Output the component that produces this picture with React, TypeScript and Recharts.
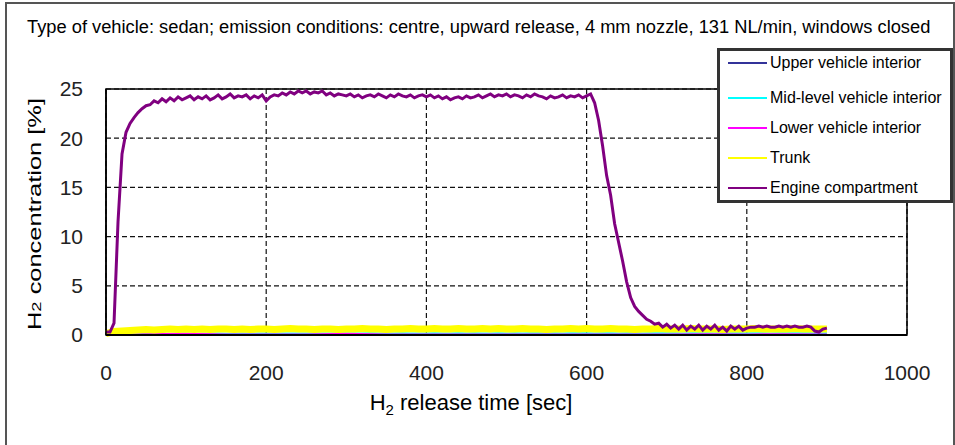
import React from "react";
import {
  LineChart,
  Line,
  XAxis,
  YAxis,
  CartesianGrid,
  Legend,
  ReferenceArea,
} from "recharts";

// sampling step of the traces (sec)
const ENGINE_STEP = 5;
const CABIN_STEP = 10;
const LOW_STEP = 50;

const X_TICKS = [0, 200, 400, 600, 800, 1000];
const Y_TICKS = [0, 5, 10, 15, 20, 25];

// Engine compartment, every 5 s from 0 to 900 s
const ENGINE = [
  0.3, 0.3, 1.2, 11.5, 18.4, 20.6, 21.5, 22.1, 22.6, 23.0, 23.3, 23.4, 23.8, 23.6, 24.0, 23.7, 24.1, 23.8, 24.2, 23.9,
  24.1, 24.3, 23.9, 24.2, 24.0, 24.3, 23.9, 24.1, 24.4, 24.0, 24.2, 24.5, 24.1, 24.3, 24.2, 24.4, 24.0, 24.3, 24.1, 24.4,
  23.8, 24.2, 24.4, 24.3, 24.6, 24.4, 24.7, 24.5, 24.8, 24.6, 24.8, 24.5, 24.7, 24.6, 24.8, 24.4, 24.6, 24.3, 24.5, 24.4,
  24.3, 24.5, 24.2, 24.4, 24.1, 24.3, 24.4, 24.2, 24.5, 24.3, 24.1, 24.4, 24.2, 24.5, 24.3, 24.2, 24.4, 24.1, 24.3, 24.4,
  24.2, 24.4, 24.1, 24.3, 24.0, 24.2, 23.9, 24.1, 24.2, 24.0, 24.3, 24.1, 24.2, 24.4, 24.1, 24.3, 24.5, 24.2, 24.4, 24.3,
  24.5, 24.2, 24.4, 24.3, 24.1, 24.4, 24.2, 24.5, 24.3, 24.2, 24.0, 24.3, 24.1, 24.2, 24.4, 24.1, 24.3, 24.2, 24.4, 24.1,
  24.3, 24.5, 23.6, 21.8, 19.2, 16.2, 14.2, 11.3, 9.4, 7.5, 5.4, 3.8, 2.9, 2.4, 2.0, 1.6, 1.4, 1.1, 1.2, 0.8,
  1.1, 0.7, 1.0, 0.6, 1.0, 0.5, 0.9, 0.6, 1.0, 0.5, 0.9, 0.6, 1.0, 0.5, 0.8, 0.4, 0.9, 0.6, 0.9, 0.5,
  0.7, 0.8, 0.8, 0.9, 0.8, 0.9, 0.8, 0.8, 0.9, 0.8, 0.9, 0.8, 0.9, 0.8, 0.8, 0.9, 0.8, 0.4, 0.3, 0.6,
  0.7,
];

// Trunk, every 10 s
const TRUNK = [
  0.15, 0.35, 0.4, 0.45, 0.5, 0.55, 0.5, 0.55, 0.6, 0.55,
  0.6, 0.55, 0.6, 0.55, 0.6, 0.6, 0.55, 0.6, 0.55, 0.6,
  0.6, 0.55, 0.6, 0.65, 0.6, 0.6, 0.55, 0.6, 0.6, 0.55,
  0.6, 0.6, 0.65, 0.6, 0.6, 0.55, 0.6, 0.6, 0.65, 0.6,
  0.6, 0.65, 0.6, 0.6, 0.65, 0.6, 0.6, 0.65, 0.6, 0.65,
  0.6, 0.6, 0.65, 0.6, 0.6, 0.55, 0.6, 0.6, 0.65, 0.6,
  0.65, 0.6, 0.6, 0.65, 0.6, 0.6, 0.55, 0.6, 0.6, 0.65,
  0.6, 0.6, 0.6, 0.65, 0.6, 0.6, 0.6, 0.55, 0.6, 0.6,
  0.6, 0.65, 0.6, 0.6, 0.6, 0.6, 0.65, 0.6, 0.6, 0.6,
  0.6,
];

// Mid-level vehicle interior, every 10 s
const MID = [
  0.0, 0.02, 0.05, 0.05, 0.08, 0.1, 0.1, 0.12, 0.1, 0.12,
  0.12, 0.1, 0.12, 0.12, 0.14, 0.12, 0.12, 0.14, 0.12, 0.14,
  0.14, 0.12, 0.15, 0.14, 0.16, 0.15, 0.14, 0.16, 0.15, 0.16,
  0.15, 0.16, 0.15, 0.17, 0.16, 0.15, 0.16, 0.17, 0.16, 0.15,
  0.16, 0.17, 0.16, 0.15, 0.17, 0.16, 0.17, 0.16, 0.15, 0.17,
  0.16, 0.17, 0.16, 0.17, 0.18, 0.16, 0.17, 0.16, 0.18, 0.17,
  0.17, 0.16, 0.18, 0.17, 0.16, 0.18, 0.17, 0.16, 0.18, 0.17,
  0.18, 0.17, 0.16, 0.18, 0.17, 0.18, 0.16, 0.17, 0.18, 0.17,
  0.18, 0.17, 0.18, 0.16, 0.17, 0.18, 0.17, 0.18, 0.17, 0.16,
  0.17,
];

// Lower vehicle interior, every 50 s
const LOWER = [0.0, 0.08, 0.12, 0.05, 0.05, 0.04, 0.12, 0.05, 0.04, 0.05, 0.05, 0.06, 0.05, 0.06, 0.06, 0.07, 0.06, 0.07, 0.06];

// Upper vehicle interior, every 50 s
const UPPER = [0.0, 0.0, 0.01, 0.01, 0.01, 0.01, 0.01, 0.02, 0.02, 0.02, 0.02, 0.02, 0.02, 0.02, 0.02, 0.02, 0.02, 0.02, 0.02];

const toPoints = (values: number[], step: number) =>
  values.map((v, i) => ({ t: i * step, v }));

const SERIES = [
  { name: "Upper vehicle interior", color: "#333399", width: 1.5, data: toPoints(UPPER, LOW_STEP) },
  { name: "Mid-level vehicle interior", color: "#00ffff", width: 2, data: toPoints(MID, CABIN_STEP) },
  { name: "Lower vehicle interior", color: "#ff00ff", width: 2, data: toPoints(LOWER, LOW_STEP) },
  { name: "Trunk", color: "#ffff00", width: 7, data: toPoints(TRUNK, CABIN_STEP) },
  { name: "Engine compartment", color: "#800080", width: 3, data: toPoints(ENGINE, ENGINE_STEP) },
];

const FONT = "'Liberation Sans', Arial, sans-serif";

function LegendBox() {
  return (
    <div style={{ fontFamily: FONT, fontSize: 16, color: "#000", paddingTop: 2 }}>
      {SERIES.map((s, i) => (
        <div
          key={s.name}
          style={{
            display: "flex",
            alignItems: "center",
            height: 20,
            marginTop: i === 0 ? 0 : i === 1 ? 15 : 10,
          }}
        >
          <div style={{ width: 39, height: 1.5, background: s.color, marginLeft: 8, marginRight: 3 }} />
          <span>{s.name}</span>
        </div>
      ))}
    </div>
  );
}

export default function App() {
  return (
    <div style={{ position: "absolute", left: 0, top: 0, width: 955, height: 445, background: "#fff" }}>
      <div
        style={{
          position: "absolute",
          left: 5,
          top: 2,
          width: 950,
          height: 443,
          boxSizing: "border-box",
          borderTop: "2px solid #555",
          borderLeft: "2px solid #555",
          borderRight: "2px solid #555",
        }}
      />
      <div
        style={{
          position: "absolute",
          left: 27,
          top: 18,
          fontFamily: FONT,
          fontSize: 18.3,
          lineHeight: "18px",
          whiteSpace: "nowrap",
          color: "#000",
        }}
      >
        Type of vehicle: sedan; emission conditions: centre, upward release, 4 mm nozzle, 131 NL/min, windows closed
      </div>
      <LineChart
        width={955}
        height={445}
        margin={{ top: 89, right: 48, bottom: 70, left: 46 }}
        style={{ position: "absolute", left: 0, top: 0 }}
      >
        <CartesianGrid stroke="#111" strokeDasharray="5 3" strokeWidth={1.2} />
        <ReferenceArea
          x1={0}
          x2={1000}
          y1={0}
          y2={25}
          fill="none"
          fillOpacity={0}
          stroke="#000"
          strokeWidth={1.5}
          ifOverflow="visible"
        />
        <XAxis
          dataKey="t"
          type="number"
          domain={[0, 1000]}
          ticks={X_TICKS}
          height={40}
          tickLine={false}
          tickSize={0}
          tickMargin={30}
          axisLine={{ stroke: "#000", strokeWidth: 2 }}
          tick={{ fill: "#222", fontSize: 21, fontFamily: FONT }}
          label={{
            content: () => (
              <text x={471} y={410} textAnchor="middle" fontFamily={FONT} fontSize={22} fill="#000">
                H<tspan fontSize={15} dy={5}>2</tspan>
                <tspan dy={-5}> release time [sec]</tspan>
              </text>
            ),
          }}
        />
        <YAxis
          type="number"
          domain={[0, 25]}
          ticks={Y_TICKS}
          width={60}
          tickLine={false}
          tickSize={0}
          tickMargin={23}
          axisLine={{ stroke: "#000", strokeWidth: 1.5 }}
          tick={{ fill: "#222", fontSize: 21, fontFamily: FONT }}
          label={{
            content: () => (
              <text
                x={41}
                y={214}
                textAnchor="middle"
                transform="rotate(-90, 41, 214)"
                fontFamily={FONT}
                fontSize={18}
                textLength={232}
                lengthAdjust="spacingAndGlyphs"
                fill="#000"
              >
                H<tspan fontSize={13}>2</tspan>
                <tspan> concentration [%]</tspan>
              </text>
            ),
          }}
        />
        {SERIES.map((s) => (
          <Line
            key={s.name}
            name={s.name}
            data={s.data}
            dataKey="v"
            type="linear"
            stroke={s.color}
            strokeWidth={s.width}
            dot={false}
            activeDot={false}
            isAnimationActive={false}
          />
        ))}
        <Legend
          layout="vertical"
          align="center"
          verticalAlign="middle"
          content={() => <LegendBox />}
          wrapperStyle={{
            left: 717,
            top: 48,
            width: 236,
            height: 155,
            border: "3px solid #333",
            background: "#fff",
            boxSizing: "border-box",
          }}
        />
      </LineChart>
    </div>
  );
}
